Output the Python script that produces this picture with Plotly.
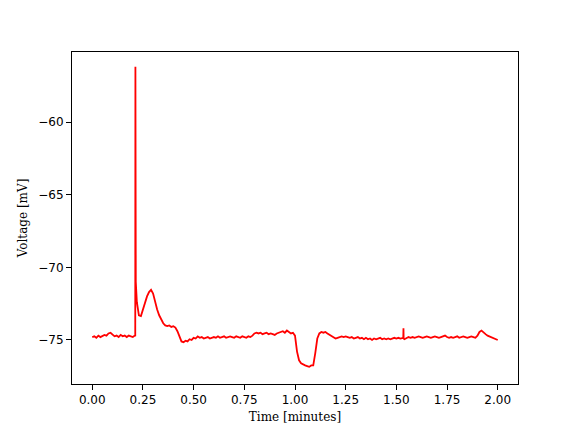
import numpy as np
import plotly.graph_objects as go

# regular samples every 0.01 min
t_base = np.round(np.arange(0, 2.001, 0.01), 3)
v_base = [
    -74.80, -74.75, -74.85, -74.70, -74.80, -74.75, -74.65, -74.70, -74.55, -74.50,
    -74.65, -74.75, -74.70, -74.80, -74.65, -74.75, -74.70, -74.80, -74.70, -74.75,
    -74.80, -74.70, -72.40, -73.30, -73.35, -72.90, -72.40, -72.00, -71.70, -71.55,
    -71.80, -72.40, -72.90, -73.30, -73.60, -73.85, -74.00, -74.05, -74.00, -74.10,
    -74.05, -74.15, -74.40, -74.80, -75.10, -75.15, -75.05, -75.10, -74.95, -75.00,
    -74.85, -74.90, -74.75, -74.85, -74.80, -74.90, -74.85, -74.80, -74.90, -74.85,
    -74.80, -74.85, -74.75, -74.85, -74.80, -74.75, -74.85, -74.80, -74.75, -74.80,
    -74.85, -74.75, -74.80, -74.85, -74.75, -74.80, -74.85, -74.75, -74.80, -74.70,
    -74.55, -74.50, -74.55, -74.50, -74.60, -74.55, -74.50, -74.60, -74.55, -74.60,
    -74.65, -74.55, -74.50, -74.45, -74.40, -74.50, -74.35, -74.45, -74.55, -74.50,
    -74.70, -75.80, -76.40, -76.60, -76.70, -76.75, -76.80, -76.85, -76.75, -76.75,
    -75.90, -74.90, -74.55, -74.45, -74.50, -74.45, -74.55, -74.65, -74.75, -74.80,
    -74.90, -74.85, -74.80, -74.75, -74.80, -74.75, -74.80, -74.85, -74.80, -74.90,
    -74.85, -74.80, -74.90, -74.85, -74.95, -74.85, -74.95, -74.90, -75.00, -74.90,
    -74.95, -74.90, -74.85, -74.95, -74.90, -74.95, -74.90, -74.95, -74.90, -74.85,
    -74.90, -74.85, -74.90, -74.85, -74.95, -74.85, -74.80, -74.85, -74.80, -74.85,
    -74.80, -74.75, -74.80, -74.85, -74.80, -74.75, -74.80, -74.85, -74.80, -74.75,
    -74.80, -74.85, -74.80, -74.75, -74.70, -74.80, -74.85, -74.80, -74.85, -74.80,
    -74.75, -74.85, -74.80, -74.75, -74.80, -74.85, -74.80, -74.75, -74.80, -74.85,
    -74.70, -74.45, -74.35, -74.50, -74.60, -74.70, -74.75, -74.85, -74.90, -74.95,
    -75.00,
]

# action potential spike and a small glitch
spike_t = [0.2120, 0.2128, 0.2134, 0.2140, 0.2146, 1.534, 1.535, 1.536]
spike_v = [-74.75, -56.2, -61.9, -69.3, -71.0, -74.85, -74.2, -74.90]

t_all = np.concatenate([t_base, spike_t])
v_all = np.concatenate([v_base, spike_v])
order = np.argsort(t_all, kind="stable")
t_all = t_all[order]
v_all = v_all[order]

x_ticks = [0.0, 0.25, 0.5, 0.75, 1.0, 1.25, 1.5, 1.75, 2.0]
y_ticks = [-75, -70, -65, -60]
y_ticktext = ["\u221275", "\u221270", "\u221265", "\u221260"]

fig = go.Figure()
fig.add_trace(go.Scatter(x=t_all, y=v_all, mode="lines",
                         line=dict(color="red", width=1.8), showlegend=False))

axis_common = dict(showline=True, linecolor="black", linewidth=1, mirror=True,
                   ticks="outside", ticklen=5, tickcolor="black", tickwidth=1,
                   showgrid=False, zeroline=False, automargin=False,
                   tickfont=dict(family="DejaVu Sans", size=12, color="black"))

fig.update_xaxes(range=[-0.1, 2.1], tickvals=x_ticks, tickformat=".2f",
                 title=dict(text="Time [minutes]", standoff=6,
                            font=dict(family="DejaVu Serif", size=12, color="black")),
                 **axis_common)
fig.update_yaxes(range=[-78.03, -55.18], tickvals=y_ticks, ticktext=y_ticktext,
                 title=dict(text="Voltage [mV]", standoff=8,
                            font=dict(family="DejaVu Serif", size=12, color="black")),
                 **axis_common)

# page body has an 8px margin, so the figure is sized/offset to compensate
fig.update_layout(width=568, height=424, margin=dict(l=64, r=58, t=44, b=48),
                  paper_bgcolor="white", plot_bgcolor="white")

fig.write_html("out.html")
